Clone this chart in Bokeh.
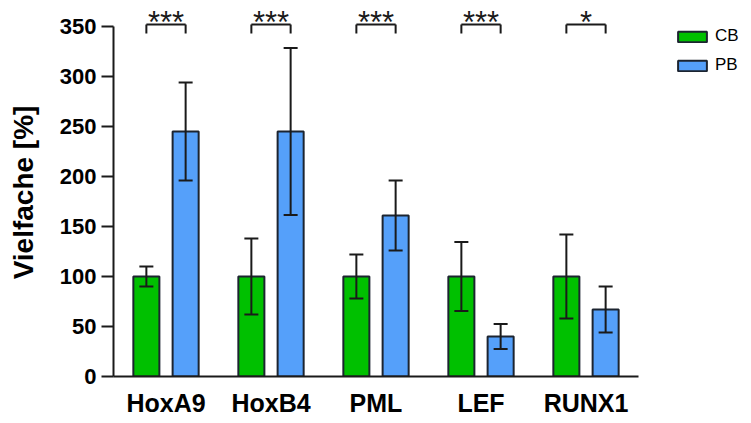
from bokeh.plotting import figure
from bokeh.models import (ColumnDataSource, Range1d, Whisker, TeeHead,
                          Legend, LegendItem, FixedTicker)
from bokeh.transform import dodge
from bokeh.embed import file_html
from bokeh.resources import INLINE
from bokeh.core.properties import value

# ---- data ----
genes = ["HoxA9", "HoxB4", "PML", "LEF", "RUNX1"]
cb_mean = [100, 100, 100, 100, 100]
cb_err = [10, 38, 22, 34.5, 42]
pb_mean = [245, 245, 161, 40, 67]
pb_err = [49, 83.5, 35, 12.5, 23]
sig_labels = ["***", "***", "***", "***", "*"]
series_names = ["CB", "PB"]
y_ticks = [0, 50, 100, 150, 200, 250, 300, 350]

# ---- styles ----
FONT = "Liberation Sans"
GREEN = "#00c000"
BLUE = "#55a0fa"
OUTLINE = "#1c2430"
INK = "#1a1a1a"
OFF = 0.187
BAR_W = 0.248
BR_LO, BR_HI = 343, 352
STAR_Y = 354

idx = list(range(len(genes)))
src = ColumnDataSource(dict(
    xi=idx, gene=genes,
    cb=cb_mean, pb=pb_mean,
    cb_up=[m + e for m, e in zip(cb_mean, cb_err)],
    cb_lo=[m - e for m, e in zip(cb_mean, cb_err)],
    pb_up=[m + e for m, e in zip(pb_mean, pb_err)],
    pb_lo=[m - e for m, e in zip(pb_mean, pb_err)],
    sig=sig_labels,
    br_lo=[BR_LO] * len(genes),
    br_hi=[BR_HI] * len(genes),
    star_y=[STAR_Y] * len(genes),
))

W, H = 751, 420
LEFT, RIGHT = 113, 0
PX_PER_CAT = 105.0
x_end = -0.5 + (W - LEFT - RIGHT) / PX_PER_CAT

p = figure(width=W, height=H, output_backend="svg", toolbar_location=None,
           x_range=Range1d(-0.5, x_end),
           y_range=Range1d(0, 368),
           min_border_left=LEFT, min_border_right=RIGHT,
           min_border_top=8, min_border_bottom=H - 376)
p.outline_line_color = None
p.xgrid.visible = False
p.ygrid.visible = False
p.background_fill_color = "white"

r_cb = p.vbar(x=dodge("xi", -OFF), top="cb", width=BAR_W, source=src,
              fill_color=GREEN, line_color=OUTLINE, line_width=2)
r_pb = p.vbar(x=dodge("xi", OFF), top="pb", width=BAR_W, source=src,
              fill_color=BLUE, line_color=OUTLINE, line_width=2)

for key, off in (("cb", -OFF), ("pb", OFF)):
    w = Whisker(source=src, base=dodge("xi", off),
                upper=key + "_up", lower=key + "_lo",
                line_width=2, line_color=INK, level="overlay",
                upper_head=TeeHead(size=14, line_width=2, line_color=INK),
                lower_head=TeeHead(size=14, line_width=2, line_color=INK))
    p.add_layout(w)

# significance brackets
p.segment(x0=dodge("xi", -OFF), y0="br_hi", x1=dodge("xi", OFF), y1="br_hi",
          source=src, line_width=2, line_color=INK)
p.segment(x0=dodge("xi", -OFF), y0="br_lo", x1=dodge("xi", -OFF), y1="br_hi",
          source=src, line_width=2, line_color=INK)
p.segment(x0=dodge("xi", OFF), y0="br_lo", x1=dodge("xi", OFF), y1="br_hi",
          source=src, line_width=2, line_color=INK)
p.text(x="xi", y="star_y", text="sig", source=src, text_align="center",
       text_baseline="alphabetic", text_font=value(FONT), text_font_size="31px",
       text_color=INK)

# axes
ya = p.yaxis[0]
ya.ticker = FixedTicker(ticks=y_ticks)
ya.bounds = (0, 350)
ya.axis_label = "Vielfache [%]"
ya.axis_label_text_font = FONT
ya.axis_label_text_font_size = "28px"
ya.axis_label_text_font_style = "bold"
ya.axis_label_text_color = "black"
ya.axis_label_standoff = 18
ya.major_label_text_font = FONT
ya.major_label_text_font_size = "22px"
ya.major_label_text_font_style = "bold"
ya.major_label_text_color = "black"
ya.major_label_standoff = 5
ya.major_tick_out = 12
ya.major_tick_in = 0
ya.minor_tick_out = 0
ya.minor_tick_in = 0
ya.axis_line_width = 2
ya.major_tick_line_width = 2
ya.axis_line_color = INK
ya.major_tick_line_color = INK

xa = p.xaxis[0]
xa.ticker = FixedTicker(ticks=idx)
xa.major_label_overrides = {i: g for i, g in zip(idx, genes)}
xa.bounds = (-0.5, len(genes) - 0.5)
xa.major_label_text_font = FONT
xa.major_label_text_font_size = "25px"
xa.major_label_text_font_style = "bold"
xa.major_label_text_color = "black"
xa.major_label_standoff = 12
xa.major_tick_out = 0
xa.major_tick_in = 0
xa.minor_tick_out = 0
xa.minor_tick_in = 0
xa.axis_line_width = 2
xa.axis_line_color = INK

legend = Legend(items=[LegendItem(label=series_names[0], renderers=[r_cb]),
                       LegendItem(label=series_names[1], renderers=[r_pb])],
                location=(561, 301), padding=0, margin=0, spacing=9,
                glyph_width=36, glyph_height=13, label_standoff=5,
                label_text_font=FONT, label_text_font_size="17px",
                label_text_color="black",
                border_line_color=None, background_fill_alpha=0)
p.add_layout(legend)

open("out.html", "w").write(file_html(p, INLINE))
